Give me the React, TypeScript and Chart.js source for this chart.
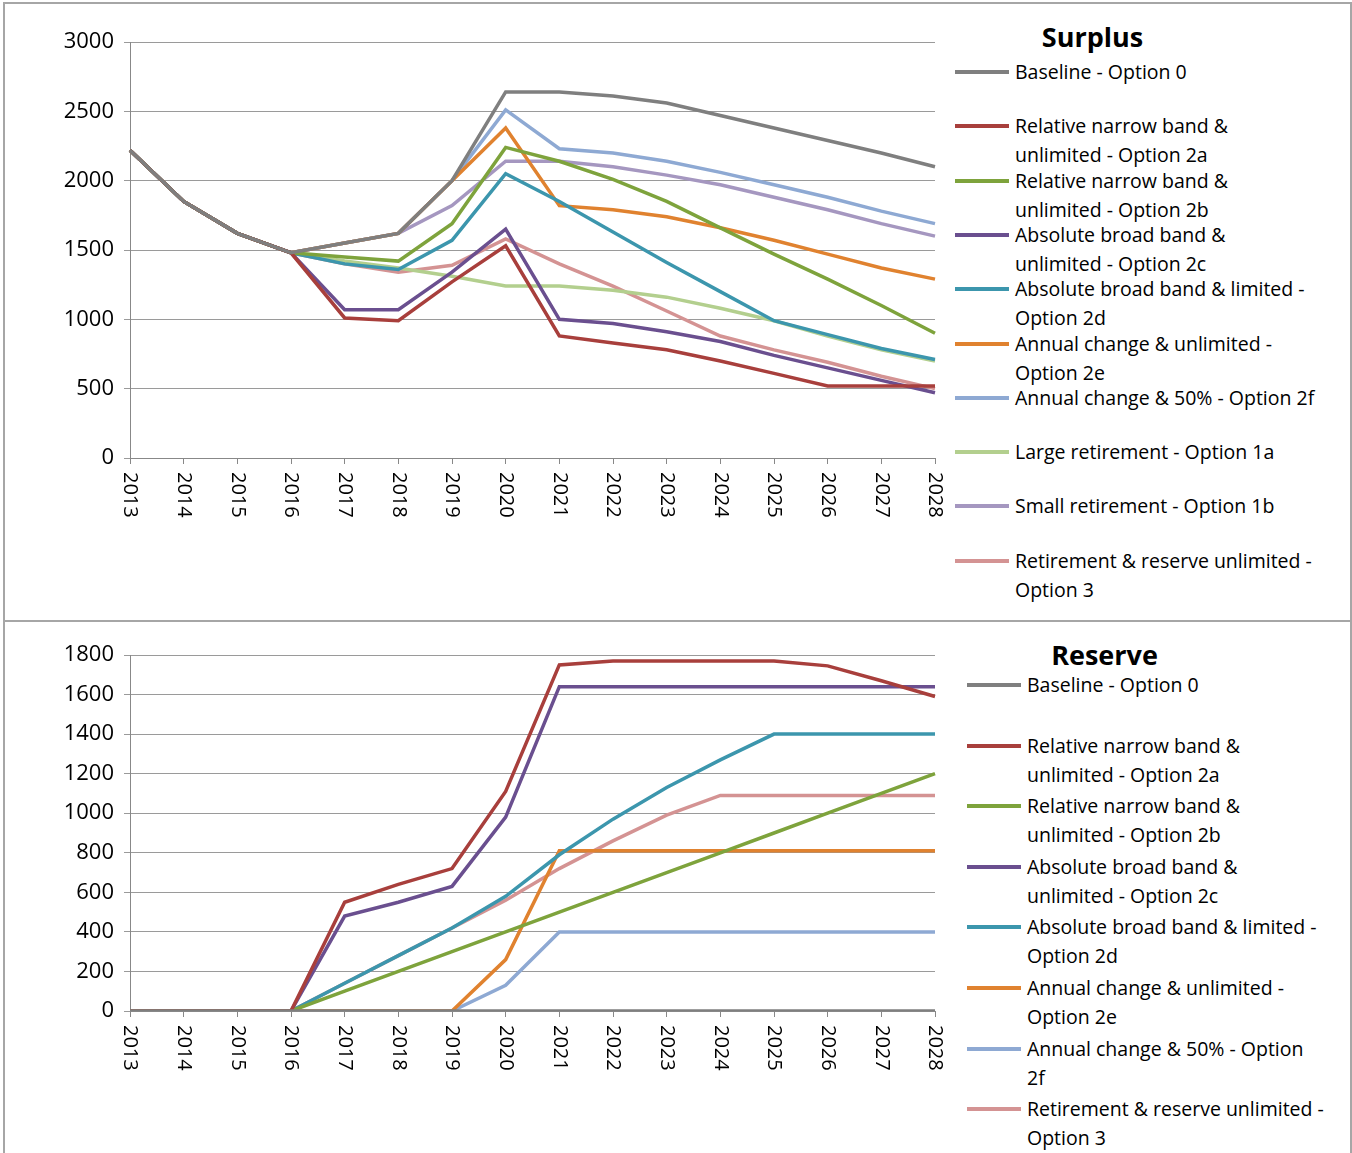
import { useEffect, useRef } from "react"
import { Chart, registerables } from "chart.js"

Chart.register(...registerables)

const years = ["2013", "2014", "2015", "2016", "2017", "2018", "2019", "2020", "2021", "2022", "2023", "2024", "2025", "2026", "2027", "2028"]

const names = [
  "Baseline - Option 0",
  "Relative narrow band &\nunlimited - Option 2a",
  "Relative narrow band &\nunlimited - Option 2b",
  "Absolute broad band &\nunlimited - Option 2c",
  "Absolute broad band & limited -\nOption 2d",
  "Annual change & unlimited -\nOption 2e",
  "Annual change & 50% - Option 2f",
  "Large retirement - Option 1a",
  "Small retirement - Option 1b",
  "Retirement & reserve unlimited -\nOption 3",
]
const reserveNames = [
  "Baseline - Option 0",
  "Relative narrow band &\nunlimited - Option 2a",
  "Relative narrow band &\nunlimited - Option 2b",
  "Absolute broad band &\nunlimited - Option 2c",
  "Absolute broad band & limited -\nOption 2d",
  "Annual change & unlimited -\nOption 2e",
  "Annual change & 50% - Option\n2f",
  "Retirement & reserve unlimited -\nOption 3",
]
const colors = ["#7f7f7f", "#a83f3c", "#7ea33c", "#6a4f8f", "#3c96ad", "#e0822f", "#8ea9d3", "#b3cf8e", "#a597c0", "#d49393"]

const head = [2220, 1850, 1620, 1480]
const surplus0 = [...head, 1550, 1620, 2000, 2640, 2640, 2610, 2560, 2470, 2380, 2290, 2200, 2100]
const surplus2a = [...head, 1010, 990, 1270, 1530, 880, 830, 780, 700, 610, 520, 520, 520]
const surplus2b = [...head, 1450, 1420, 1690, 2240, 2140, 2010, 1850, 1660, 1470, 1290, 1100, 900]
const surplus2c = [...head, 1070, 1070, 1340, 1650, 1000, 970, 910, 840, 740, 650, 560, 470]
const surplus2d = [...head, 1400, 1360, 1570, 2050, 1850, 1630, 1410, 1200, 990, 890, 790, 710]
const surplus2e = [...head, 1550, 1620, 2000, 2380, 1820, 1790, 1740, 1660, 1570, 1470, 1370, 1290]
const surplus2f = [...head, 1550, 1620, 2000, 2510, 2230, 2200, 2140, 2060, 1970, 1880, 1780, 1690]
const surplus1a = [...head, 1420, 1370, 1310, 1240, 1240, 1210, 1160, 1080, 990, 880, 780, 700]
const surplus1b = [...head, 1550, 1620, 1820, 2140, 2140, 2100, 2040, 1970, 1880, 1790, 1690, 1600]
const surplus3 = [...head, 1400, 1340, 1390, 1580, 1400, 1240, 1060, 880, 780, 690, 590, 500]

const reserve0 = [0, 0, 0, 0, 0, 0, 0, 0, 0, 0, 0, 0, 0, 0, 0, 0]
const reserve2a = [0, 0, 0, 0, 550, 640, 720, 1110, 1750, 1770, 1770, 1770, 1770, 1745, 1670, 1590]
const reserve2b = [0, 0, 0, 0, 100, 200, 300, 400, 500, 600, 700, 800, 900, 1000, 1100, 1200]
const reserve2c = [0, 0, 0, 0, 480, 550, 630, 980, 1640, 1640, 1640, 1640, 1640, 1640, 1640, 1640]
const reserve2d = [0, 0, 0, 0, 140, 280, 420, 580, 790, 970, 1130, 1270, 1400, 1400, 1400, 1400]
const reserve2e = [0, 0, 0, 0, 0, 0, 0, 260, 810, 810, 810, 810, 810, 810, 810, 810]
const reserve2f = [0, 0, 0, 0, 0, 0, 0, 130, 400, 400, 400, 400, 400, 400, 400, 400]
const reserve3 = [0, 0, 0, 0, 140, 280, 420, 560, 720, 860, 990, 1090, 1090, 1090, 1090, 1090]

const surplusSeries = [surplus0, surplus2a, surplus2b, surplus2c, surplus2d, surplus2e, surplus2f, surplus1a, surplus1b, surplus3]
const reserveSeries = [reserve0, reserve2a, reserve2b, reserve2c, reserve2d, reserve2e, reserve2f, reserve3]
const surplusIdx = [0, 1, 2, 3, 4, 5, 6, 7, 8, 9]
const reserveIdx = [0, 1, 2, 3, 4, 5, 6, 9]

const FONT = "'Open Sans', sans-serif"

// x labels read top-to-bottom, so draw them ourselves
const rotatedLabels = {
  id: "rotatedLabels",
  afterDraw(chart: any) {
    const ctx = chart.ctx
    const xs = chart.scales.x
    ctx.save()
    ctx.font = `20px ${FONT}`
    ctx.fillStyle = "#000"
    ctx.textAlign = "left"
    ctx.textBaseline = "middle"
    years.forEach((y, i) => {
      const px = xs.getPixelForValue(i)
      ctx.save()
      ctx.translate(px, chart.chartArea.bottom + 14)
      ctx.rotate(Math.PI / 2)
      ctx.fillText(y, 0, 0)
      ctx.restore()
    })
    ctx.restore()
  },
}

interface PanelProps {
  series: number[][]
  idx: number[]
  max: number
  step: number
  height: number
  top: number
  plotH: number
}

function LinePanel({ series, idx, max, step, height, top, plotH }: PanelProps) {
  const ref = useRef<HTMLCanvasElement | null>(null)

  useEffect(() => {
    if (!ref.current) return
    const chart = new Chart(ref.current, {
      type: "line",
      data: {
        labels: years,
        datasets: series.map((d, k) => ({
          label: names[idx[k]],
          data: d,
          borderColor: colors[idx[k]],
          borderWidth: 3.5,
          pointRadius: 0,
          tension: 0,
          fill: false,
        })),
      },
      options: {
        animation: false,
        responsive: false,
        layout: { padding: { top: top, right: 15, left: 0, bottom: 0 } },
        plugins: { legend: { display: false }, tooltip: { enabled: false } },
        scales: {
          x: {
            grid: { display: true, drawOnChartArea: false, color: "#888", tickLength: 6 },
            border: { color: "#888" },
            ticks: { display: false },
            afterFit: (s: any) => {
              s.height = height - top - plotH
            },
          },
          y: {
            min: 0,
            max: max,
            ticks: { stepSize: step, font: { size: 22, family: FONT }, color: "#000", padding: 10, callback: (v: any) => String(v) },
            grid: { color: "#9a9a9a", tickLength: 6 },
            border: { color: "#888" },
            afterFit: (s: any) => {
              s.width = 130
            },
          },
        },
      },
      plugins: [rotatedLabels],
    })
    return () => chart.destroy()
  }, [])

  return <canvas ref={ref} width={950} height={height} style={{ position: "absolute", left: 0, top: 0 }} />
}

function Legend({ title, idx, labels, slot, left, titleTop, firstTop }: { title: string; idx: number[]; labels: string[]; slot: number; left: number; titleTop: number; firstTop: number }) {
  return (
    <div style={{ position: "absolute", left: left, top: 0, width: 400, fontFamily: FONT }}>
      <div style={{ position: "absolute", top: titleTop, left: 0, width: 275, textAlign: "center", fontSize: 27, fontWeight: "bold" }}>{title}</div>
      {idx.map((c, k) => (
        <div key={k} style={{ position: "absolute", top: firstTop + k * slot, left: 0, width: 400 }}>
          <div style={{ position: "absolute", left: 0, top: 13, width: 54, height: 4, background: colors[c] }} />
          <div style={{ position: "absolute", left: 60, top: 0, width: 340, fontSize: 19.5, lineHeight: "29px", color: "#000", whiteSpace: "pre" }}>
            {labels[k]}
          </div>
        </div>
      ))}
    </div>
  )
}

export default function App() {
  return (
    <div style={{ position: "absolute", left: 0, top: 0, width: 1352, height: 1153, background: "#fff", overflow: "hidden" }}>
      <div style={{ position: "absolute", left: 3, top: 2, width: 1345, height: 616, border: "2px solid #a6a6a6" }} />
      <div style={{ position: "absolute", left: 3, top: 620, width: 1345, height: 540, border: "2px solid #a6a6a6" }} />
      <div style={{ position: "absolute", left: 0, top: 0, width: 1352, height: 620 }}>
        <LinePanel series={surplusSeries} idx={surplusIdx} max={3000} step={500} height={620} top={42} plotH={416} />
        <Legend title="Surplus" idx={surplusIdx} labels={surplusIdx.map((i) => names[i])} slot={54.3} left={955} titleTop={18} firstTop={57} />
      </div>
      <div style={{ position: "absolute", left: 0, top: 622, width: 1352, height: 531 }}>
        <LinePanel series={reserveSeries} idx={reserveIdx} max={1800} step={200} height={531} top={33} plotH={356} />
        <Legend title="Reserve" idx={reserveIdx} labels={reserveNames} slot={60.6} left={967} titleTop={14} firstTop={48} />
      </div>
    </div>
  )
}
